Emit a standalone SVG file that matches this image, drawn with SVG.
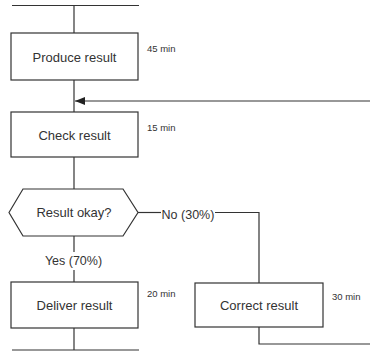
<svg xmlns="http://www.w3.org/2000/svg" width="370" height="361" viewBox="0 0 370 361">
  <style>
    .shape { fill: #ffffff; stroke: #333333; stroke-width: 1.2; }
    .line { fill: none; stroke: #333333; stroke-width: 1.2; }
    .label { font-family: "Liberation Sans", Arial, sans-serif; font-size: 13px; fill: #333333; text-anchor: middle; }
    .time { font-family: "Liberation Sans", Arial, sans-serif; font-size: 9.5px; fill: #333333; }
    .edge { font-family: "Liberation Sans", Arial, sans-serif; font-size: 12.5px; fill: #333333; }
  </style>
  <defs>
    <marker id="arrow" markerWidth="10" markerHeight="8" refX="10" refY="4" orient="auto" markerUnits="userSpaceOnUse">
      <path d="M0,0 L10,4 L0,8 Z" fill="#222222"/>
    </marker>
  </defs>

  <g id="connectors">
    <!-- start bar and flow into first step -->
    <line class="line" x1="12" y1="5.5" x2="139" y2="5.5"/>
    <line class="line" x1="74" y1="5.5" x2="74" y2="33"/>
    <!-- produce to check -->
    <line class="line" x1="74" y1="80" x2="74" y2="112"/>
    <!-- loop return from correction -->
    <line class="line" x1="370" y1="101" x2="75" y2="101" marker-end="url(#arrow)"/>
    <!-- check to decision -->
    <line class="line" x1="74" y1="157" x2="74" y2="189"/>
    <!-- yes branch -->
    <line class="line" x1="74" y1="236" x2="74" y2="252"/>
    <line class="line" x1="74" y1="270" x2="74" y2="282"/>
    <!-- no branch -->
    <line class="line" x1="138" y1="212.5" x2="161" y2="212.5"/>
    <polyline class="line" points="215,212.5 259,212.5 259,283"/>
    <!-- correction back to loop -->
    <polyline class="line" points="259,327 259,344 370,344"/>
    <!-- deliver to end bar -->
    <line class="line" x1="74" y1="328" x2="74" y2="350"/>
    <line class="line" x1="12" y1="350" x2="139" y2="350"/>
    <text class="edge" x="188" y="219" text-anchor="middle">No (30%)</text>
    <text class="edge" x="73.5" y="265" text-anchor="middle">Yes (70%)</text>
  </g>

  <g id="produce">
    <rect class="shape" x="11" y="33" width="127" height="47"/>
    <text class="label" x="74.5" y="61.5">Produce result</text>
    <text class="time" x="147" y="51.5">45 min</text>
  </g>

  <g id="check">
    <rect class="shape" x="11" y="112" width="127" height="45"/>
    <text class="label" x="74.5" y="139.5">Check result</text>
    <text class="time" x="147" y="130.5">15 min</text>
  </g>

  <g id="decision">
    <polygon class="shape" points="9,212.5 23,189 123,189 138,212.5 123,236 23,236"/>
    <text class="label" x="74" y="217">Result okay?</text>
  </g>

  <g id="deliver">
    <rect class="shape" x="11" y="282" width="127" height="46"/>
    <text class="label" x="74.5" y="310">Deliver result</text>
    <text class="time" x="147" y="297">20 min</text>
  </g>

  <g id="correct">
    <rect class="shape" x="195" y="283" width="128" height="44"/>
    <text class="label" x="259" y="310">Correct result</text>
    <text class="time" x="332" y="300">30 min</text>
  </g>
</svg>
